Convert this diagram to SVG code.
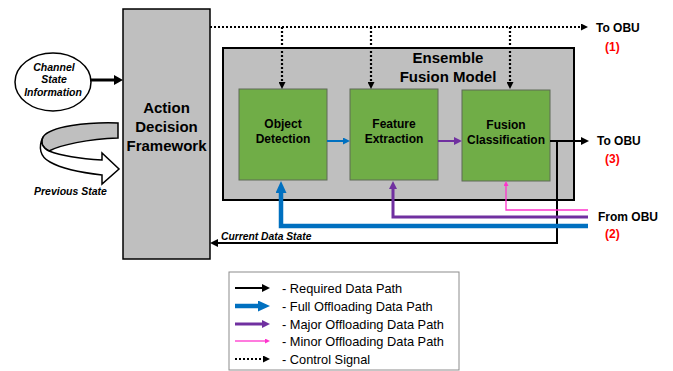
<svg xmlns="http://www.w3.org/2000/svg" width="673" height="371" viewBox="0 0 673 371">
  <style>
    text { font-family: "Liberation Sans", Arial, sans-serif; fill: #000; }
    .b { font-weight: bold; }
    .bi { font-weight: bold; font-style: italic; }
    .red { fill: #ff0000; font-weight: bold; }
    .panel { fill: #bfbfbf; stroke: #000; }
    .stage { fill: #70ad47; stroke: #5f6b57; stroke-width: 1; }
    .req { fill: none; stroke: #000; stroke-width: 2; }
    .full { fill: none; stroke: #0070c0; stroke-width: 4.5; }
    .major { fill: none; stroke: #7030a0; stroke-width: 3; }
    .minor { fill: none; stroke: #ff33cc; stroke-width: 1.3; }
    .ctrl { fill: none; stroke: #000; stroke-width: 2.2; stroke-dasharray: 2 2; }
    .legend-text { font-size: 12.8px; }
  </style>
  <defs>
    <marker id="ah-black" markerUnits="userSpaceOnUse" markerWidth="8" markerHeight="8" refX="0" refY="4" orient="auto">
      <path d="M0,0 L8,4 L0,8 z" fill="#000"/>
    </marker>
    <marker id="ah-black-big" markerUnits="userSpaceOnUse" markerWidth="9" markerHeight="10" refX="0" refY="5" orient="auto">
      <path d="M0,0 L9,5 L0,10 z" fill="#000"/>
    </marker>
    <marker id="ah-ctrl" markerUnits="userSpaceOnUse" markerWidth="7" markerHeight="7" refX="0" refY="3.5" orient="auto">
      <path d="M0,0 L7,3.5 L0,7 z" fill="#000"/>
    </marker>
    <marker id="ah-blue" markerUnits="userSpaceOnUse" markerWidth="7" markerHeight="7" refX="0" refY="3.5" orient="auto">
      <path d="M0,0 L7,3.5 L0,7 z" fill="#0070c0"/>
    </marker>
    <marker id="ah-blue-big" markerUnits="userSpaceOnUse" markerWidth="12" markerHeight="11" refX="0" refY="5.5" orient="auto">
      <path d="M0,0 L12,5.5 L0,11 z" fill="#0070c0"/>
    </marker>
    <marker id="ah-purple" markerUnits="userSpaceOnUse" markerWidth="8" markerHeight="8" refX="0" refY="4" orient="auto">
      <path d="M0,0 L8,4 L0,8 z" fill="#7030a0"/>
    </marker>
    <marker id="ah-pink" markerUnits="userSpaceOnUse" markerWidth="5" markerHeight="5" refX="0" refY="2.5" orient="auto">
      <path d="M0,0 L5,2.5 L0,5 z" fill="#ff33cc"/>
    </marker>
  </defs>

  <!-- Action decision framework -->
  <g id="action-decision-framework">
    <rect class="panel" x="123" y="9" width="87" height="250" stroke-width="1.5"/>
    <text class="b" font-size="15" text-anchor="middle" x="166.5" y="113">Action</text>
    <text class="b" font-size="15" text-anchor="middle" x="166.5" y="132">Decision</text>
    <text class="b" font-size="15" text-anchor="middle" x="166.5" y="151">Framework</text>
  </g>

  <!-- Channel state input -->
  <g id="channel-state">
    <ellipse cx="53" cy="82" rx="38" ry="29" fill="#fff" stroke="#000" stroke-width="1.5"/>
    <text class="bi" font-size="10.5" text-anchor="middle" x="54" y="71">Channel</text>
    <text class="bi" font-size="10.5" text-anchor="middle" x="54" y="83">State</text>
    <text class="bi" font-size="10.5" text-anchor="middle" x="53" y="96">Information</text>
  </g>

  <!-- Previous state feedback ribbon -->
  <g id="previous-state">
    <path d="M118,123 C88,122 50,126 43,137 C40,143 43,148 49,151 C60,145 88,139 118,138 Z" fill="#bfbfbf" stroke="#000" stroke-width="1.5"/>
    <path d="M43,137 C38,147 40,157 50,162 C64,170 84,173 102,175 L102,184 L119,169 L102,153 L102,160 C84,159 62,156 49,151 C43,148 40,143 43,137 Z" fill="#fff" stroke="#000" stroke-width="1.5"/>
    <text class="bi" font-size="10.5" x="34" y="195">Previous State</text>
  </g>

  <!-- Ensemble fusion model container -->
  <g id="ensemble-fusion-model">
    <rect class="panel" x="223" y="48" width="351" height="152" stroke-width="2"/>
    <text class="b" font-size="15" text-anchor="middle" x="448" y="63">Ensemble</text>
    <text class="b" font-size="15" text-anchor="middle" x="448" y="82">Fusion Model</text>
  </g>

  <g id="object-detection">
    <rect class="stage" x="239" y="89" width="88" height="91"/>
    <text class="b" font-size="12" text-anchor="middle" x="283" y="128">Object</text>
    <text class="b" font-size="12" text-anchor="middle" x="283" y="143">Detection</text>
  </g>

  <g id="feature-extraction">
    <rect class="stage" x="350" y="89" width="88" height="91"/>
    <text class="b" font-size="12" text-anchor="middle" x="394" y="128">Feature</text>
    <text class="b" font-size="12" text-anchor="middle" x="394" y="143">Extraction</text>
  </g>

  <g id="fusion-classification">
    <rect class="stage" x="462" y="90" width="88" height="91"/>
    <text class="b" font-size="12" text-anchor="middle" x="506" y="129">Fusion</text>
    <text class="b" font-size="12" text-anchor="middle" x="506" y="144">Classification</text>
  </g>

  <!-- Endpoint labels -->
  <g id="obu-labels">
    <text class="b" font-size="12" x="596" y="32">To OBU</text>
    <text class="red" font-size="12" x="605" y="51">(1)</text>
    <text class="b" font-size="12" x="597" y="145">To OBU</text>
    <text class="red" font-size="12" x="605" y="163">(3)</text>
    <text class="b" font-size="12" x="598" y="221">From OBU</text>
    <text class="red" font-size="12" x="605" y="238">(2)</text>
    <text class="bi" font-size="10.3" x="221" y="240">Current Data State</text>
  </g>

  <!-- Connectors -->
  <g id="connectors">
    <!-- control signals -->
    <path class="ctrl" d="M210,27 L581,27" marker-end="url(#ah-ctrl)"/>
    <path class="ctrl" d="M282,27 L282,82" marker-end="url(#ah-ctrl)"/>
    <path class="ctrl" d="M371,27 L371,82" marker-end="url(#ah-ctrl)"/>
    <path class="ctrl" d="M510,27 L510,82" marker-end="url(#ah-ctrl)"/>
    <!-- channel state into framework -->
    <path d="M90,80 L114,80" fill="none" stroke="#000" stroke-width="3" marker-end="url(#ah-black-big)"/>
    <!-- pipeline -->
    <path d="M327,141 L343,141" fill="none" stroke="#0070c0" stroke-width="2" marker-end="url(#ah-blue)"/>
    <path d="M438,141 L454,141" fill="none" stroke="#7030a0" stroke-width="2" marker-end="url(#ah-purple)"/>
    <!-- output and current data state feedback -->
    <path class="req" d="M550,141 L581,141" marker-end="url(#ah-black)"/>
    <path class="req" d="M557,141 L557,243 L218,243" marker-end="url(#ah-black)"/>
    <!-- offloaded data from OBU -->
    <path class="minor" d="M588,210 L506,210 L506,186" marker-end="url(#ah-pink)"/>
    <path class="major" d="M588,217 L393,217 L393,189" marker-end="url(#ah-purple)"/>
    <path class="full" d="M588,226 L281,226 L281,193" marker-end="url(#ah-blue-big)"/>
  </g>

  <!-- Legend -->
  <g id="legend">
    <rect x="229" y="272" width="230" height="98" fill="#fff" stroke="#8c8c8c" stroke-width="1"/>
    <path class="req" d="M235,288 L262,288" marker-end="url(#ah-black)"/>
    <path class="full" d="M235,306 L258,306" marker-end="url(#ah-blue-big)"/>
    <path class="major" d="M235,324 L262,324" marker-end="url(#ah-purple)"/>
    <path class="minor" d="M235,341 L265,341" marker-end="url(#ah-pink)"/>
    <path class="ctrl" d="M235,359 L263,359" marker-end="url(#ah-ctrl)"/>
    <text class="legend-text" x="282" y="292.5">- Required Data Path</text>
    <text class="legend-text" x="282" y="310.5">- Full Offloading Data Path</text>
    <text class="legend-text" x="282" y="328.5">- Major Offloading Data Path</text>
    <text class="legend-text" x="282" y="345.5">- Minor Offloading Data Path</text>
    <text class="legend-text" x="282" y="363.5">- Control Signal</text>
  </g>
</svg>
